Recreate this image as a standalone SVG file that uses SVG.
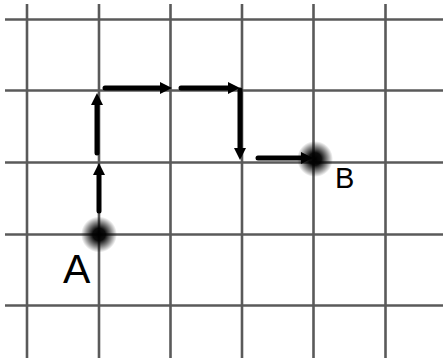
<svg xmlns="http://www.w3.org/2000/svg" width="443" height="358" viewBox="0 0 443 358">
  <defs>
    <style>
      .grid line { stroke: #5a5a5a; stroke-width: 2.6; }
      .arrow { stroke: #000; stroke-width: 5; stroke-linecap: round; fill: none; marker-end: url(#ah); }
      .label { font-family: "Liberation Sans", Arial, sans-serif; fill: #000; }
    </style>
    <marker id="ah" viewBox="0 0 12 12" markerWidth="12" markerHeight="12" markerUnits="userSpaceOnUse" refX="4" refY="6" orient="auto">
      <path d="M0,0 L12,6 L0,12 z" fill="#000"/>
    </marker>
    <radialGradient id="dot">
      <stop offset="0" stop-color="#000" stop-opacity="1"/>
      <stop offset="0.35" stop-color="#000" stop-opacity="0.95"/>
      <stop offset="0.7" stop-color="#000" stop-opacity="0.45"/>
      <stop offset="1" stop-color="#000" stop-opacity="0"/>
    </radialGradient>
  </defs>
  <rect width="443" height="358" fill="#fff"/>
  <g class="grid" id="grid">
    <line x1="27" y1="4" x2="27" y2="358"/>
    <line x1="99" y1="4" x2="99" y2="358"/>
    <line x1="170.5" y1="4" x2="170.5" y2="358"/>
    <line x1="242" y1="4" x2="242" y2="358"/>
    <line x1="313.5" y1="4" x2="313.5" y2="358"/>
    <line x1="385.5" y1="4" x2="385.5" y2="358"/>
    <line x1="5" y1="19.5" x2="443" y2="19.5"/>
    <line x1="5" y1="90.5" x2="443" y2="90.5"/>
    <line x1="5" y1="162.5" x2="443" y2="162.5"/>
    <line x1="5" y1="234.5" x2="443" y2="234.5"/>
    <line x1="5" y1="305.5" x2="443" y2="305.5"/>
  </g>
  <g id="connectors">
    <line class="arrow" x1="99" y1="211" x2="99" y2="171"/>
    <line class="arrow" x1="97" y1="153" x2="97" y2="101"/>
    <line class="arrow" x1="105" y1="88" x2="164" y2="88"/>
    <line class="arrow" x1="181" y1="88" x2="232" y2="88"/>
    <line class="arrow" x1="240" y1="90" x2="240" y2="152"/>
    <line class="arrow" x1="258" y1="158" x2="305" y2="158"/>
  </g>
  <g id="A">
    <circle cx="99" cy="234.5" r="18" fill="url(#dot)"/>
    <text class="label" x="63" y="283" font-size="41">A</text>
  </g>
  <g id="B">
    <circle cx="315" cy="159" r="18" fill="url(#dot)"/>
    <text class="label" x="335" y="188" font-size="29">B</text>
  </g>
</svg>
